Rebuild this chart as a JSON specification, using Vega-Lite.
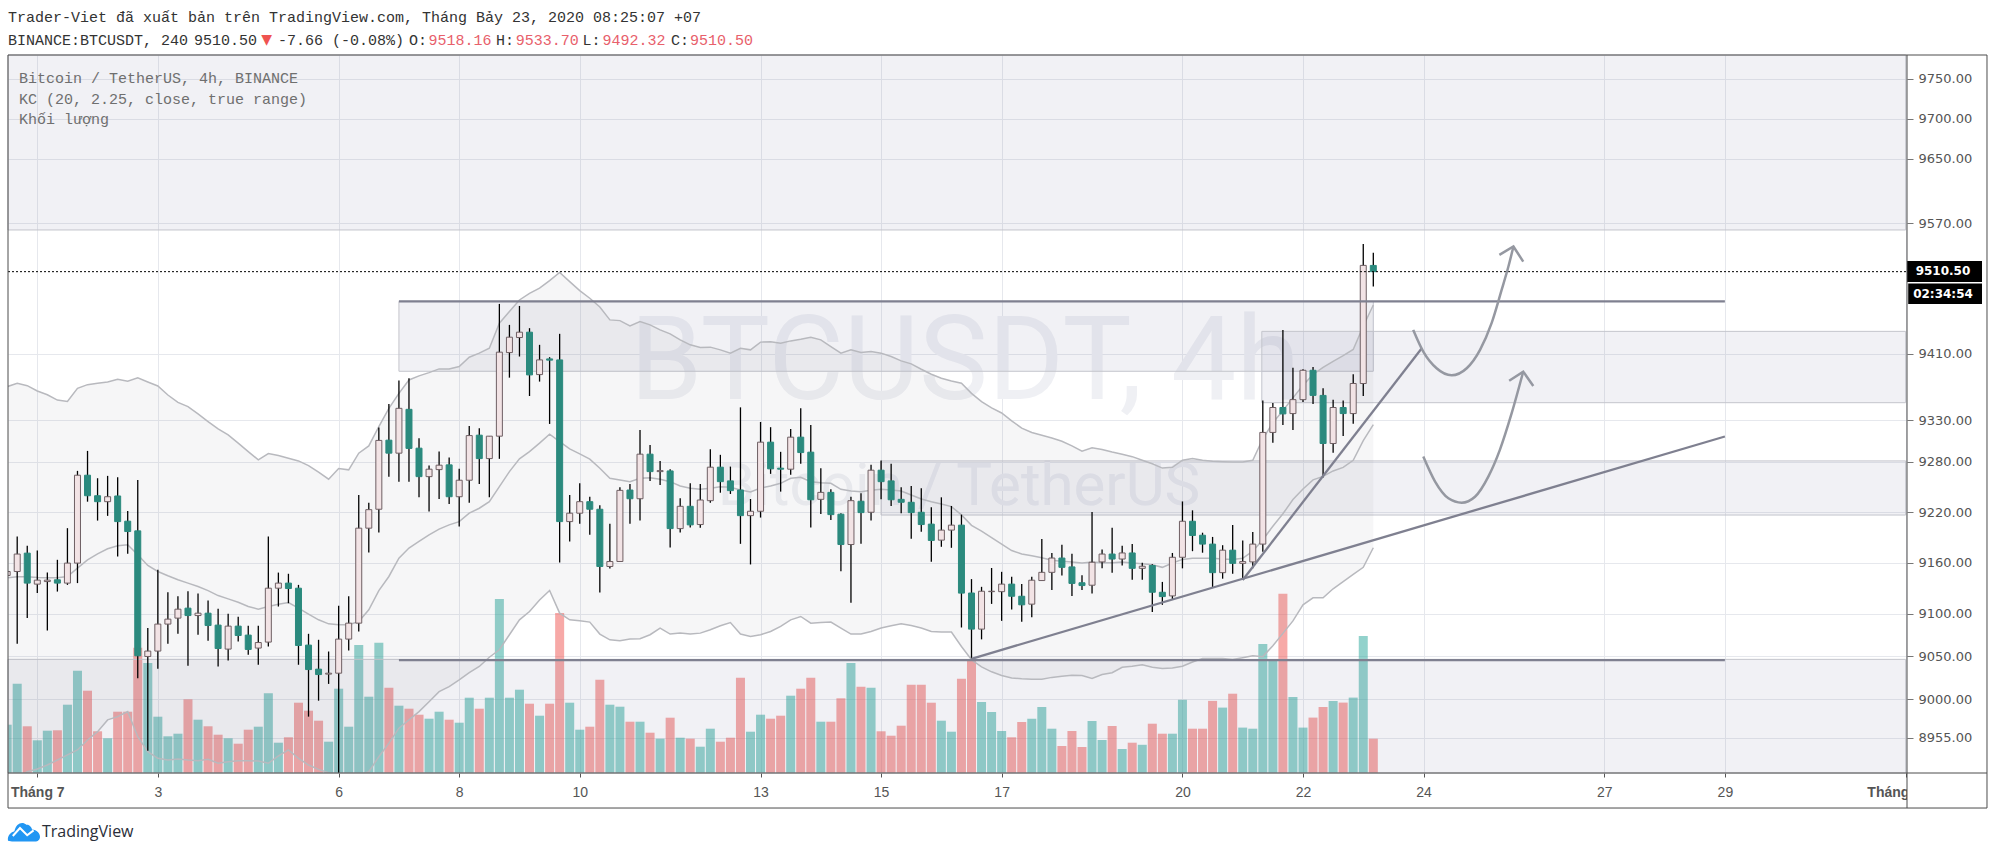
{"$schema":"https://vega.github.io/schema/vega-lite/v6.json","autosize":{"type":"none"},"padding":{"left":8,"top":55,"right":89,"bottom":83},"width":1899,"height":718,"background":"white","config":{"view":{"stroke":null}},
"datasets":{"bars":[
{"t":"2020-06-30T12:00Z","o":9144.8,"h":9163.3,"l":9128,"c":9149.5,"v":4830,"ku":9370.4,"km":9142,"kl":8906.4},
{"t":"2020-06-30T16:00Z","o":9149.5,"h":9190.9,"l":9064.5,"c":9170.1,"v":8930,"ku":9374.5,"km":9143.2,"kl":8908.8},
{"t":"2020-06-30T20:00Z","o":9171.2,"h":9179.9,"l":9094.6,"c":9135.8,"v":4670,"ku":9371.6,"km":9143.2,"kl":8916},
{"t":"2020-07-01T00:00Z","o":9134.6,"h":9174.3,"l":9124,"c":9139.3,"v":3270,"ku":9365.1,"km":9142.4,"kl":8919.2},
{"t":"2020-07-01T04:00Z","o":9137.6,"h":9148.2,"l":9080.1,"c":9139.3,"v":4230,"ku":9360.6,"km":9142,"kl":8923.8},
{"t":"2020-07-01T08:00Z","o":9139.7,"h":9163.3,"l":9125.8,"c":9135.8,"v":4270,"ku":9354.2,"km":9142,"kl":8929.6},
{"t":"2020-07-01T12:00Z","o":9135.8,"h":9200.8,"l":9133.7,"c":9159.4,"v":6830,"ku":9352.6,"km":9143.6,"kl":8935.4},
{"t":"2020-07-01T16:00Z","o":9159.4,"h":9269.1,"l":9135.8,"c":9263.9,"v":10230,"ku":9368.4,"km":9153.5,"kl":8941.2},
{"t":"2020-07-01T20:00Z","o":9263.9,"h":9293,"l":9232.3,"c":9239.4,"v":8230,"ku":9372.8,"km":9163.3,"kl":8952.7},
{"t":"2020-07-02T00:00Z","o":9239.4,"h":9260.3,"l":9209.8,"c":9232.3,"v":4170,"ku":9374.5,"km":9170.4,"kl":8962.3},
{"t":"2020-07-02T04:00Z","o":9232.3,"h":9263.1,"l":9215.4,"c":9238.2,"v":3470,"ku":9376.1,"km":9176.3,"kl":8975.9},
{"t":"2020-07-02T08:00Z","o":9239.1,"h":9261.5,"l":9167.2,"c":9208.6,"v":6130,"ku":9379.4,"km":9179.9,"kl":8979.7},
{"t":"2020-07-02T12:00Z","o":9209.1,"h":9221.3,"l":9170.4,"c":9196.8,"v":6130,"ku":9376.9,"km":9181.1,"kl":8985.5},
{"t":"2020-07-02T16:00Z","o":9197.6,"h":9258.3,"l":9024.4,"c":9050.5,"v":12530,"ku":9381,"km":9169.2,"kl":8956.5},
{"t":"2020-07-02T20:00Z","o":9049.7,"h":9082.9,"l":8940.3,"c":9056,"v":11000,"ku":9376.1,"km":9156.6,"kl":8939.2},
{"t":"2020-07-03T00:00Z","o":9056,"h":9151.5,"l":9035.3,"c":9087.6,"v":5630,"ku":9371.2,"km":9149.5,"kl":8931.5},
{"t":"2020-07-03T04:00Z","o":9087.6,"h":9124.9,"l":9064.5,"c":9093.4,"v":3670,"ku":9360.3,"km":9144.4,"kl":8929.6},
{"t":"2020-07-03T08:00Z","o":9094.6,"h":9120.2,"l":9076.2,"c":9105.1,"v":3930,"ku":9351.4,"km":9139.7,"kl":8930.7},
{"t":"2020-07-03T12:00Z","o":9106.3,"h":9126.1,"l":9038.8,"c":9097.6,"v":7370,"ku":9346.2,"km":9135.8,"kl":8929.6},
{"t":"2020-07-03T16:00Z","o":9097.6,"h":9123.4,"l":9075.1,"c":9100.4,"v":5330,"ku":9337.4,"km":9131.7,"kl":8928.8},
{"t":"2020-07-03T20:00Z","o":9100.4,"h":9115.2,"l":9068,"c":9085.9,"v":4670,"ku":9328.2,"km":9127,"kl":8930.4},
{"t":"2020-07-04T00:00Z","o":9086.4,"h":9105.5,"l":9038,"c":9059,"v":3830,"ku":9319.4,"km":9121.1,"kl":8925.8},
{"t":"2020-07-04T04:00Z","o":9058.3,"h":9099.6,"l":9045,"c":9085.2,"v":3470,"ku":9312.2,"km":9117.2,"kl":8927.6},
{"t":"2020-07-04T08:00Z","o":9085.2,"h":9096.1,"l":9067.2,"c":9074.2,"v":2930,"ku":9302.3,"km":9113.3,"kl":8928.8},
{"t":"2020-07-04T12:00Z","o":9074.7,"h":9085.6,"l":9051.7,"c":9057.9,"v":4330,"ku":9292.2,"km":9108.2,"kl":8928.8},
{"t":"2020-07-04T16:00Z","o":9059.5,"h":9085.6,"l":9040,"c":9066,"v":4630,"ku":9282.3,"km":9105.1,"kl":8928.4},
{"t":"2020-07-04T20:00Z","o":9066.5,"h":9190.9,"l":9061.4,"c":9129.8,"v":7970,"ku":9289.8,"km":9108.2,"kl":8925.8},
{"t":"2020-07-05T00:00Z","o":9129.8,"h":9148.2,"l":9108.2,"c":9135.8,"v":3030,"ku":9287.4,"km":9111,"kl":8934.2},
{"t":"2020-07-05T04:00Z","o":9135.8,"h":9146.8,"l":9112.1,"c":9129.4,"v":3570,"ku":9284.3,"km":9112.8,"kl":8941.2},
{"t":"2020-07-05T08:00Z","o":9129.8,"h":9133.7,"l":9040,"c":9062.5,"v":7030,"ku":9281,"km":9106.3,"kl":8931.5},
{"t":"2020-07-05T12:00Z","o":9063,"h":9076.2,"l":8979.7,"c":9034.4,"v":6230,"ku":9275.4,"km":9099.3,"kl":8923.8},
{"t":"2020-07-05T16:00Z","o":9034.9,"h":9069.2,"l":8998.2,"c":9028.6,"v":5230,"ku":9267.5,"km":9092.6,"kl":8918.8},
{"t":"2020-07-05T20:00Z","o":9029.1,"h":9055.5,"l":9017.7,"c":9030.2,"v":3130,"ku":9259.1,"km":9087.9,"kl":8914.9},
{"t":"2020-07-06T00:00Z","o":9030.2,"h":9109,"l":8914.9,"c":9070,"v":8430,"ku":9272,"km":9086.8,"kl":8911},
{"t":"2020-07-06T04:00Z","o":9070,"h":9120.2,"l":9056.7,"c":9088.7,"v":4630,"ku":9270.3,"km":9086.8,"kl":8908.8},
{"t":"2020-07-06T08:00Z","o":9088.7,"h":9240.2,"l":9078.9,"c":9200.8,"v":12800,"ku":9290.3,"km":9090.6,"kl":8912.2},
{"t":"2020-07-06T12:00Z","o":9200.8,"h":9231.1,"l":9172,"c":9222.8,"v":7630,"ku":9299,"km":9104.3,"kl":8916},
{"t":"2020-07-06T16:00Z","o":9223.3,"h":9321.2,"l":9195.6,"c":9305.6,"v":13030,"ku":9322.2,"km":9127,"kl":8933.3},
{"t":"2020-07-06T20:00Z","o":9305.9,"h":9349.4,"l":9262.2,"c":9290.3,"v":8530,"ku":9344.2,"km":9143.6,"kl":8948.9},
{"t":"2020-07-07T00:00Z","o":9290.3,"h":9377.9,"l":9256.2,"c":9344.2,"v":6730,"ku":9362.3,"km":9165.3,"kl":8966.3},
{"t":"2020-07-07T04:00Z","o":9343,"h":9380.6,"l":9256.2,"c":9296,"v":6430,"ku":9378.5,"km":9177.2,"kl":8975.9},
{"t":"2020-07-07T08:00Z","o":9296.3,"h":9308.3,"l":9237.5,"c":9262.2,"v":5830,"ku":9383.4,"km":9185,"kl":8985.5},
{"t":"2020-07-07T12:00Z","o":9262.2,"h":9275.4,"l":9220.5,"c":9271.1,"v":5430,"ku":9387.4,"km":9192.9,"kl":8997},
{"t":"2020-07-07T16:00Z","o":9270.6,"h":9292.2,"l":9235.5,"c":9275.9,"v":6130,"ku":9391.9,"km":9199.6,"kl":9008.7},
{"t":"2020-07-07T20:00Z","o":9276.3,"h":9285,"l":9229.6,"c":9238.2,"v":5330,"ku":9391.9,"km":9204.7,"kl":9014.6},
{"t":"2020-07-08T00:00Z","o":9238.2,"h":9271.5,"l":9202.7,"c":9257.9,"v":5030,"ku":9394.7,"km":9208.6,"kl":9022.4},
{"t":"2020-07-08T04:00Z","o":9257.9,"h":9323,"l":9231.1,"c":9311.4,"v":7530,"ku":9406.1,"km":9218.6,"kl":9030.9},
{"t":"2020-07-08T08:00Z","o":9311.9,"h":9320.3,"l":9253.5,"c":9283.8,"v":6430,"ku":9411,"km":9224.5,"kl":9038},
{"t":"2020-07-08T12:00Z","o":9283.8,"h":9311,"l":9237.5,"c":9310.7,"v":7530,"ku":9417,"km":9232.3,"kl":9048.8},
{"t":"2020-07-08T16:00Z","o":9310.7,"h":9471,"l":9283.5,"c":9412.2,"v":17400,"ku":9447.5,"km":9250.2,"kl":9057.5},
{"t":"2020-07-08T20:00Z","o":9411.7,"h":9445.4,"l":9381.3,"c":9430.4,"v":7530,"ku":9461.6,"km":9268.2,"kl":9075.1},
{"t":"2020-07-09T00:00Z","o":9430,"h":9468.5,"l":9406.9,"c":9436.5,"v":8330,"ku":9475.8,"km":9283.5,"kl":9092.6},
{"t":"2020-07-09T04:00Z","o":9436.5,"h":9441.4,"l":9359.1,"c":9384.6,"v":6930,"ku":9484,"km":9292.2,"kl":9102.3},
{"t":"2020-07-09T08:00Z","o":9385,"h":9421.1,"l":9376.5,"c":9402.8,"v":5730,"ku":9490.2,"km":9302.3,"kl":9116},
{"t":"2020-07-09T12:00Z","o":9404,"h":9406.1,"l":9325.4,"c":9402.5,"v":6930,"ku":9499.6,"km":9313.1,"kl":9127},
{"t":"2020-07-09T16:00Z","o":9402.8,"h":9434.5,"l":9160.1,"c":9208.6,"v":16000,"ku":9509.5,"km":9304.2,"kl":9100.4},
{"t":"2020-07-09T20:00Z","o":9208.6,"h":9240.2,"l":9185,"c":9218.6,"v":7030,"ku":9498.3,"km":9295.4,"kl":9092.6},
{"t":"2020-07-10T00:00Z","o":9218.6,"h":9254.3,"l":9205.9,"c":9232.3,"v":4330,"ku":9487.2,"km":9289.4,"kl":9091.4},
{"t":"2020-07-10T04:00Z","o":9232.3,"h":9238.2,"l":9192.9,"c":9223.3,"v":4630,"ku":9477.9,"km":9283.1,"kl":9089.9},
{"t":"2020-07-10T08:00Z","o":9223.3,"h":9228,"l":9124.6,"c":9155.4,"v":9330,"ku":9467.3,"km":9272.3,"kl":9075.9},
{"t":"2020-07-10T12:00Z","o":9155.4,"h":9205.9,"l":9153,"c":9161.3,"v":6830,"ku":9451.5,"km":9260.3,"kl":9069.2},
{"t":"2020-07-10T16:00Z","o":9161.3,"h":9249.4,"l":9161.3,"c":9245.8,"v":6630,"ku":9450.6,"km":9258.3,"kl":9068},
{"t":"2020-07-10T20:00Z","o":9246.2,"h":9253.5,"l":9205.9,"c":9235.8,"v":5130,"ku":9444.2,"km":9256.2,"kl":9070},
{"t":"2020-07-11T00:00Z","o":9235.8,"h":9318.2,"l":9209.8,"c":9289.1,"v":5130,"ku":9449.4,"km":9260.3,"kl":9070.4},
{"t":"2020-07-11T04:00Z","o":9289.1,"h":9300.2,"l":9257.1,"c":9268.2,"v":4030,"ku":9445.4,"km":9261,"kl":9075.1},
{"t":"2020-07-11T08:00Z","o":9268.2,"h":9281,"l":9252.3,"c":9269.4,"v":3430,"ku":9439.3,"km":9259.1,"kl":9082.9},
{"t":"2020-07-11T12:00Z","o":9269,"h":9271.1,"l":9177.9,"c":9200.3,"v":5530,"ku":9434.5,"km":9256.2,"kl":9075.9},
{"t":"2020-07-11T16:00Z","o":9200.3,"h":9236.3,"l":9195.6,"c":9226.8,"v":3530,"ku":9427.2,"km":9251,"kl":9077},
{"t":"2020-07-11T20:00Z","o":9226.8,"h":9254.3,"l":9201.5,"c":9204.7,"v":3430,"ku":9421.1,"km":9248.3,"kl":9075.9},
{"t":"2020-07-12T00:00Z","o":9205.1,"h":9253.5,"l":9201.2,"c":9234.3,"v":2630,"ku":9417.8,"km":9247.1,"kl":9077},
{"t":"2020-07-12T04:00Z","o":9233.5,"h":9295,"l":9231.1,"c":9273.5,"v":4430,"ku":9418.3,"km":9248.3,"kl":9080.9},
{"t":"2020-07-12T08:00Z","o":9273.5,"h":9288.3,"l":9243,"c":9256.2,"v":3130,"ku":9415,"km":9250.2,"kl":9085.6},
{"t":"2020-07-12T12:00Z","o":9257.1,"h":9274.2,"l":9241.5,"c":9245.5,"v":3530,"ku":9411,"km":9249.4,"kl":9089.4},
{"t":"2020-07-12T16:00Z","o":9246.2,"h":9345.4,"l":9182.2,"c":9215.7,"v":9530,"ku":9417,"km":9246.2,"kl":9075.9},
{"t":"2020-07-12T20:00Z","o":9215.7,"h":9235.5,"l":9157.8,"c":9220.9,"v":4130,"ku":9415,"km":9243.8,"kl":9073.1},
{"t":"2020-07-13T00:00Z","o":9220.9,"h":9327.8,"l":9213.4,"c":9303.5,"v":5830,"ku":9424.4,"km":9248.6,"kl":9075.1},
{"t":"2020-07-13T04:00Z","o":9303.5,"h":9321.5,"l":9265.5,"c":9271.5,"v":5430,"ku":9424.7,"km":9251,"kl":9078.9},
{"t":"2020-07-13T08:00Z","o":9272.3,"h":9291.9,"l":9244.3,"c":9271.1,"v":5730,"ku":9423.1,"km":9254.2,"kl":9084.8},
{"t":"2020-07-13T12:00Z","o":9271.1,"h":9319.4,"l":9264.3,"c":9309.5,"v":7730,"ku":9425.9,"km":9260.3,"kl":9092.6},
{"t":"2020-07-13T16:00Z","o":9309.5,"h":9344.2,"l":9277.5,"c":9291,"v":8430,"ku":9428,"km":9261.4,"kl":9096.5},
{"t":"2020-07-13T20:00Z","o":9291.5,"h":9324.2,"l":9201.5,"c":9234.6,"v":9530,"ku":9430.4,"km":9256.2,"kl":9088.7},
{"t":"2020-07-14T00:00Z","o":9235.1,"h":9272.3,"l":9217.7,"c":9243.4,"v":5130,"ku":9427.2,"km":9255,"kl":9089.4},
{"t":"2020-07-14T04:00Z","o":9243.4,"h":9247.1,"l":9210.6,"c":9216.9,"v":5130,"ku":9419,"km":9254.2,"kl":9089.9},
{"t":"2020-07-14T08:00Z","o":9217.4,"h":9218.6,"l":9149.9,"c":9181.4,"v":7470,"ku":9411,"km":9247.1,"kl":9082.9},
{"t":"2020-07-14T12:00Z","o":9181.4,"h":9238.2,"l":9112.8,"c":9233.5,"v":11000,"ku":9415,"km":9245.1,"kl":9075.9},
{"t":"2020-07-14T16:00Z","o":9232.8,"h":9242.3,"l":9182.2,"c":9219.3,"v":8630,"ku":9411.7,"km":9244.2,"kl":9075.9},
{"t":"2020-07-14T20:00Z","o":9219.7,"h":9276.3,"l":9209.8,"c":9269.9,"v":8530,"ku":9412.9,"km":9245.9,"kl":9078.9},
{"t":"2020-07-15T00:00Z","o":9269.9,"h":9281.4,"l":9235.1,"c":9256.2,"v":4170,"ku":9411,"km":9247.1,"kl":9082.9},
{"t":"2020-07-15T04:00Z","o":9257.1,"h":9277.5,"l":9227.2,"c":9234.6,"v":3730,"ku":9406.9,"km":9246.2,"kl":9085.6},
{"t":"2020-07-15T08:00Z","o":9235.1,"h":9249.4,"l":9218.6,"c":9231.6,"v":4730,"ku":9401.6,"km":9245.1,"kl":9087.9},
{"t":"2020-07-15T12:00Z","o":9231.6,"h":9251,"l":9188.2,"c":9219.3,"v":8830,"ku":9398,"km":9240.3,"kl":9085.9},
{"t":"2020-07-15T16:00Z","o":9219.7,"h":9248.3,"l":9196.4,"c":9205.1,"v":8830,"ku":9391.5,"km":9235.5,"kl":9082.9},
{"t":"2020-07-15T20:00Z","o":9205.6,"h":9225.7,"l":9161,"c":9186.2,"v":7030,"ku":9385.4,"km":9232.3,"kl":9078.9},
{"t":"2020-07-16T00:00Z","o":9186.6,"h":9237.5,"l":9178.7,"c":9198.5,"v":5230,"ku":9380.6,"km":9229.6,"kl":9078.2},
{"t":"2020-07-16T04:00Z","o":9198.5,"h":9227.2,"l":9177.5,"c":9204.4,"v":4130,"ku":9377.3,"km":9226.4,"kl":9078.2},
{"t":"2020-07-16T08:00Z","o":9204.4,"h":9216.9,"l":9083.6,"c":9124,"v":9430,"ku":9374.5,"km":9216.6,"kl":9061.4},
{"t":"2020-07-16T12:00Z","o":9124.1,"h":9140.5,"l":9047.4,"c":9081.7,"v":11290,"ku":9362.3,"km":9204.1,"kl":9045.8},
{"t":"2020-07-16T16:00Z","o":9081.7,"h":9131.4,"l":9069.7,"c":9126.2,"v":7100,"ku":9352.4,"km":9197.3,"kl":9037.6},
{"t":"2020-07-16T20:00Z","o":9125.7,"h":9153.6,"l":9111.3,"c":9126.2,"v":6100,"ku":9344.8,"km":9189.5,"kl":9031.8},
{"t":"2020-07-17T00:00Z","o":9125.7,"h":9149.1,"l":9091.4,"c":9134.6,"v":4200,"ku":9338.6,"km":9181.9,"kl":9027.4},
{"t":"2020-07-17T04:00Z","o":9134.6,"h":9143.2,"l":9104.8,"c":9120.3,"v":3570,"ku":9329,"km":9174.3,"kl":9024.5},
{"t":"2020-07-17T08:00Z","o":9120.3,"h":9134.6,"l":9090.3,"c":9110.2,"v":5100,"ku":9320.4,"km":9170.1,"kl":9023.7},
{"t":"2020-07-17T12:00Z","o":9111,"h":9143.2,"l":9095.5,"c":9139.2,"v":5430,"ku":9315.2,"km":9168,"kl":9023.2},
{"t":"2020-07-17T16:00Z","o":9138.8,"h":9187.8,"l":9138.8,"c":9148.5,"v":6600,"ku":9311.8,"km":9165.8,"kl":9023.2},
{"t":"2020-07-17T20:00Z","o":9148.5,"h":9171.4,"l":9127.8,"c":9165.4,"v":4430,"ku":9308.4,"km":9162.8,"kl":9025.3},
{"t":"2020-07-18T00:00Z","o":9165.4,"h":9181.1,"l":9144.7,"c":9154.4,"v":2700,"ku":9304.6,"km":9161.7,"kl":9026.6},
{"t":"2020-07-18T04:00Z","o":9154.9,"h":9170.4,"l":9120.7,"c":9135.4,"v":4200,"ku":9299,"km":9160.8,"kl":9027.8},
{"t":"2020-07-18T08:00Z","o":9136.2,"h":9145,"l":9127.8,"c":9132.9,"v":2600,"ku":9292.6,"km":9159.5,"kl":9027.4},
{"t":"2020-07-18T12:00Z","o":9133.3,"h":9220.1,"l":9123.6,"c":9160.4,"v":5200,"ku":9296.8,"km":9160.8,"kl":9024},
{"t":"2020-07-18T16:00Z","o":9160.8,"h":9175.6,"l":9153.2,"c":9170.1,"v":3300,"ku":9294.7,"km":9159.9,"kl":9028.7},
{"t":"2020-07-18T20:00Z","o":9170.1,"h":9201.3,"l":9148.1,"c":9164.2,"v":4700,"ku":9291.7,"km":9159.9,"kl":9030.7},
{"t":"2020-07-19T00:00Z","o":9164.2,"h":9179.9,"l":9156.6,"c":9171.4,"v":2400,"ku":9289.1,"km":9160.8,"kl":9037},
{"t":"2020-07-19T04:00Z","o":9171.4,"h":9181.9,"l":9139.7,"c":9153.2,"v":3030,"ku":9286.1,"km":9159.5,"kl":9038.3},
{"t":"2020-07-19T08:00Z","o":9153.2,"h":9159.9,"l":9139.7,"c":9155.7,"v":2820,"ku":9281.8,"km":9158.7,"kl":9039.9},
{"t":"2020-07-19T12:00Z","o":9156.6,"h":9157.9,"l":9101.8,"c":9125,"v":4930,"ku":9277.6,"km":9157.4,"kl":9037},
{"t":"2020-07-19T16:00Z","o":9125,"h":9137.2,"l":9110.2,"c":9119.9,"v":3930,"ku":9272.4,"km":9154.4,"kl":9035.7},
{"t":"2020-07-19T20:00Z","o":9120.7,"h":9171.4,"l":9116.5,"c":9166.3,"v":3930,"ku":9273.3,"km":9159.5,"kl":9036.2},
{"t":"2020-07-20T00:00Z","o":9166.3,"h":9232.6,"l":9153.2,"c":9209,"v":7320,"ku":9281.8,"km":9163.8,"kl":9038.3},
{"t":"2020-07-20T04:00Z","o":9209,"h":9222,"l":9173.5,"c":9192.1,"v":4430,"ku":9283.9,"km":9165,"kl":9043.3},
{"t":"2020-07-20T08:00Z","o":9192.4,"h":9195.4,"l":9171.7,"c":9181.9,"v":4430,"ku":9281.8,"km":9165,"kl":9047.4},
{"t":"2020-07-20T12:00Z","o":9181.9,"h":9190.4,"l":9130.3,"c":9148.1,"v":7210,"ku":9280.6,"km":9165,"kl":9047.4},
{"t":"2020-07-20T16:00Z","o":9148.1,"h":9180.6,"l":9141,"c":9174.7,"v":6540,"ku":9280.1,"km":9164.2,"kl":9047.4},
{"t":"2020-07-20T20:00Z","o":9174.7,"h":9204.7,"l":9146.9,"c":9159.1,"v":7930,"ku":9279.7,"km":9163.8,"kl":9046.3},
{"t":"2020-07-21T00:00Z","o":9159.1,"h":9186.2,"l":9140.5,"c":9161.2,"v":4540,"ku":9279.7,"km":9165,"kl":9048.3},
{"t":"2020-07-21T04:00Z","o":9160.8,"h":9196.3,"l":9153.2,"c":9181.9,"v":4430,"ku":9281.8,"km":9173.5,"kl":9050.4},
{"t":"2020-07-21T08:00Z","o":9181.9,"h":9353.7,"l":9172.7,"c":9315.2,"v":12890,"ku":9307.6,"km":9187,"kl":9049.5},
{"t":"2020-07-21T12:00Z","o":9315.2,"h":9350.7,"l":9302.8,"c":9345.2,"v":11290,"ku":9326.7,"km":9203.1,"kl":9062.2},
{"t":"2020-07-21T16:00Z","o":9345.2,"h":9439.3,"l":9324.2,"c":9337.5,"v":17930,"ku":9341.7,"km":9217.9,"kl":9076.7},
{"t":"2020-07-21T20:00Z","o":9337.9,"h":9393.2,"l":9318.2,"c":9354.7,"v":7600,"ku":9356.8,"km":9234.8,"kl":9091.3},
{"t":"2020-07-22T00:00Z","o":9354.7,"h":9391.5,"l":9351.7,"c":9390.2,"v":4540,"ku":9372,"km":9247.5,"kl":9110.2},
{"t":"2020-07-22T04:00Z","o":9390.2,"h":9394.2,"l":9349.5,"c":9359.8,"v":5540,"ku":9385.1,"km":9258.3,"kl":9118.5},
{"t":"2020-07-22T08:00Z","o":9359.8,"h":9368.6,"l":9261.2,"c":9301.9,"v":6600,"ku":9393.7,"km":9262.5,"kl":9118.5},
{"t":"2020-07-22T12:00Z","o":9301.9,"h":9354.7,"l":9290.8,"c":9345.2,"v":7200,"ku":9401.1,"km":9269,"kl":9129.1},
{"t":"2020-07-22T16:00Z","o":9345.2,"h":9353.7,"l":9310.9,"c":9337.9,"v":7040,"ku":9408.1,"km":9273.3,"kl":9137.5},
{"t":"2020-07-22T20:00Z","o":9337.9,"h":9385.5,"l":9325.5,"c":9374.2,"v":7540,"ku":9415.5,"km":9281.8,"kl":9146},
{"t":"2020-07-23T00:00Z","o":9374.2,"h":9544.4,"l":9359,"c":9518.2,"v":13700,"ku":9443.7,"km":9305.4,"kl":9154.4},
{"t":"2020-07-23T04:00Z","o":9518.16,"h":9533.7,"l":9492.32,"c":9510.5,"v":3430,"ku":9469.7,"km":9324.7,"kl":9177.6}
]},
"encoding":{"x":{"field":"t","type":"temporal","title":null,"scale":{"type":"utc","padding":0,"domain":["2020-06-30T12:20:00Z","2020-08-01T00:31:00Z"]},"axis":{"values":["2020-07-01T00:00:00Z","2020-07-03T00:00:00Z","2020-07-06T00:00:00Z","2020-07-08T00:00:00Z","2020-07-10T00:00:00Z","2020-07-13T00:00:00Z","2020-07-15T00:00:00Z","2020-07-17T00:00:00Z","2020-07-20T00:00:00Z","2020-07-22T00:00:00Z","2020-07-24T00:00:00Z","2020-07-27T00:00:00Z","2020-07-29T00:00:00Z","2020-08-01T00:00:00Z"],"labelExpr":"utcdate(datum.value)==1 ? 'Tháng ' + (utcmonth(datum.value)+1) : '' + utcdate(datum.value)","labelFontWeight":{"condition":{"test":"utcdate(datum.value)==1","value":"bold"},"value":"normal"},"labelOffset":{"condition":{"test":"utcmonth(datum.value)==7","value":-12},"value":0},"labelFont":"Liberation Sans","labelFontSize":14,"labelColor":"#555555","labelPadding":8,"labelOverlap":false,"labelBound":false,"labelFlush":false,"tickSize":4,"tickColor":"#555555","domain":false,"grid":true,"gridColor":"#e6e8ed","gridWidth":1}}},
"layer":[
{"data":{"values":[{"t":"2020-07-01T00:00:00Z","p":9510.5}]},"mark":{"type":"rule","opacity":0},"encoding":{"y":{"field":"p","type":"quantitative","title":null,"scale":{"type":"log","domain":[8914.6,9780.2],"nice":false,"zero":false},"axis":{"orient":"right","values":[8955,9000,9050,9100,9160,9220,9280,9330,9410,9570,9650,9700,9750],"format":".2f","labelFont":"DejaVu Sans","labelFontSize":13,"labelColor":"#555555","labelPadding":5,"labelOverlap":false,"labelBound":false,"tickSize":6,"tickColor":"#777777","domain":false,"grid":true,"gridColor":"#e6e8ed","gridWidth":1}}}},
{"data":{"name":"bars"},"mark":{"type":"bar","size":9,"opacity":0.5,"orient":"vertical","clip":true},"encoding":{"y":{"field":"v","type":"quantitative","stack":null,"scale":{"domain":[0,71800],"nice":false},"axis":null},"fill":{"condition":{"test":"datum.c>=datum.o","value":"#26a69a"},"value":"#ef5350"}}},
{"layer":[
{"data":{"values":[{"t":"2020-07-10T20:00:00Z","txt":"BTCUSDT, 4h","p":9355.4}]},"mark":{"type":"text","font":"Roboto","fontSize":116,"align":"left","baseline":"alphabetic","color":"#eff0f4"},"encoding":{"text":{"field":"txt"},"y":{"field":"p","type":"quantitative","scale":{"type":"log","domain":[8914.6,9780.2],"nice":false,"zero":false},"axis":null}}},
{"data":{"values":[{"t":"2020-07-12T07:00:00Z","txt":"Bitcoin / TetherUS","p":9228.4}]},"mark":{"type":"text","font":"Roboto","fontSize":60,"align":"left","baseline":"alphabetic","color":"#eff0f4"},"encoding":{"text":{"field":"txt"},"y":{"field":"p","type":"quantitative","scale":{"type":"log","domain":[8914.6,9780.2],"nice":false,"zero":false},"axis":null}}},
{"data":{"values":[
{"t":"2020-06-30T12:20:00Z","t2":"2020-08-01T00:00:00Z","p1":9780.2,"p2":9561.8},
{"t":"2020-07-07T00:00:00Z","t2":"2020-07-23T04:00:00Z","p1":9474,"p2":9389},
{"t":"2020-07-21T07:36:00Z","t2":"2020-08-01T00:00:00Z","p1":9437.5,"p2":9351},
{"t":"2020-07-15T00:00:00Z","t2":"2020-08-01T00:00:00Z","p1":9281,"p2":9216.4},
{"t":"2020-06-30T12:20:00Z","t2":"2020-08-01T00:00:00Z","p1":9046.3,"p2":8914.6}]},"mark":{"type":"rect","fill":"#6a6f9a","fillOpacity":0.095,"stroke":"#c4c5cc","strokeWidth":1},"encoding":{"x2":{"field":"t2"},"y":{"field":"p1","type":"quantitative","scale":{"type":"log","domain":[8914.6,9780.2],"nice":false,"zero":false},"axis":null},"y2":{"field":"p2"}}},
{"data":{"name":"bars"},"mark":{"type":"area","fill":"#7b7b8a","fillOpacity":0.07,"clip":true},"encoding":{"y":{"field":"ku","type":"quantitative","scale":{"type":"log","domain":[8914.6,9780.2],"nice":false,"zero":false},"axis":null},"y2":{"field":"kl"}}},
{"data":{"name":"bars"},"mark":{"type":"line","stroke":"#b8b9be","strokeWidth":1.5,"clip":true},"encoding":{"y":{"field":"ku","type":"quantitative","scale":{"type":"log","domain":[8914.6,9780.2],"nice":false,"zero":false},"axis":null}}},
{"data":{"name":"bars"},"mark":{"type":"line","stroke":"#b8b9be","strokeWidth":1.5,"clip":true},"encoding":{"y":{"field":"km","type":"quantitative","scale":{"type":"log","domain":[8914.6,9780.2],"nice":false,"zero":false},"axis":null}}},
{"data":{"name":"bars"},"mark":{"type":"line","stroke":"#b8b9be","strokeWidth":1.5,"clip":true},"encoding":{"y":{"field":"kl","type":"quantitative","scale":{"type":"log","domain":[8914.6,9780.2],"nice":false,"zero":false},"axis":null}}},
{"data":{"name":"bars"},"mark":{"type":"rule","stroke":"#000000","strokeWidth":1.3,"clip":true},"encoding":{"y":{"field":"l","type":"quantitative","scale":{"type":"log","domain":[8914.6,9780.2],"nice":false,"zero":false},"axis":null},"y2":{"field":"h"}}},
{"data":{"name":"bars"},"mark":{"type":"bar","size":6,"strokeWidth":1,"orient":"vertical","clip":true},"encoding":{"y":{"field":"o","type":"quantitative","stack":null,"scale":{"type":"log","domain":[8914.6,9780.2],"nice":false,"zero":false},"axis":null},"y2":{"field":"c"},"fill":{"condition":{"test":"datum.c>=datum.o","value":"#f2e3e5"},"value":"#2b8a7e"},"stroke":{"condition":{"test":"datum.c>=datum.o","value":"#6e5f63"},"value":"#2b8a7e"}}},
{"data":{"values":[{"t":"2020-06-30T12:20:00Z","t2":"2020-08-01T00:31:00Z","p":9510.5}]},"mark":{"type":"rule","stroke":"#000000","strokeWidth":1,"strokeDash":[2,2]},"encoding":{"x2":{"field":"t2"},"y":{"field":"p","type":"quantitative","scale":{"type":"log","domain":[8914.6,9780.2],"nice":false,"zero":false},"axis":null}}},
{"data":{"values":[
{"t":"2020-07-07T00:00:00Z","t2":"2020-07-29T00:00:00Z","p1":9474,"p2":9474},
{"t":"2020-07-07T00:00:00Z","t2":"2020-07-29T00:00:00Z","p1":9045.4,"p2":9045.4},
{"t":"2020-07-16T12:00:00Z","t2":"2020-07-29T00:00:00Z","p1":9047,"p2":9310.3},
{"t":"2020-07-21T00:00:00Z","t2":"2020-07-23T23:18:00Z","p1":9139.5,"p2":9417}]},"mark":{"type":"rule","stroke":"#7f8090","strokeWidth":2.3},"encoding":{"x2":{"field":"t2"},"y":{"field":"p1","type":"quantitative","scale":{"type":"log","domain":[8914.6,9780.2],"nice":false,"zero":false},"axis":null},"y2":{"field":"p2"}}},
{"data":{"values":[
{"g":"a","t":"2020-07-23T19:54:00Z","p":9439.3},{"g":"a","t":"2020-07-23T23:54:00Z","p":9412.9},{"g":"a","t":"2020-07-24T05:12:00Z","p":9392.7},{"g":"a","t":"2020-07-24T11:12:00Z","p":9384.2},{"g":"a","t":"2020-07-24T17:12:00Z","p":9392.7},{"g":"a","t":"2020-07-24T22:30:00Z","p":9415},{"g":"a","t":"2020-07-25T03:06:00Z","p":9447.5},{"g":"a","t":"2020-07-25T07:06:00Z","p":9488.1},{"g":"a","t":"2020-07-25T09:48:00Z","p":9516.8},{"g":"a","t":"2020-07-25T11:48:00Z","p":9541.4},
{"g":"b","t":"2020-07-23T23:54:00Z","p":9286.2},{"g":"b","t":"2020-07-24T04:36:00Z","p":9256.2},{"g":"b","t":"2020-07-24T09:54:00Z","p":9236.3},{"g":"b","t":"2020-07-24T15:12:00Z","p":9231.1},{"g":"b","t":"2020-07-24T20:30:00Z","p":9238.2},{"g":"b","t":"2020-07-25T01:48:00Z","p":9262.2},{"g":"b","t":"2020-07-25T06:24:00Z","p":9294.3},{"g":"b","t":"2020-07-25T11:06:00Z","p":9338.3},{"g":"b","t":"2020-07-25T15:42:00Z","p":9388.6}]},"mark":{"type":"line","stroke":"#9598a1","strokeWidth":2.5,"interpolate":"monotone"},"encoding":{"detail":{"field":"g"},"y":{"field":"p","type":"quantitative","scale":{"type":"log","domain":[8914.6,9780.2],"nice":false,"zero":false},"axis":null}}},
{"data":{"values":[
{"g":"a","t":"2020-07-25T06:12:00Z","p":9531.2},{"g":"a","t":"2020-07-25T11:48:00Z","p":9541.4},{"g":"a","t":"2020-07-25T15:42:00Z","p":9522.9},
{"g":"b","t":"2020-07-25T10:06:00Z","p":9377.6},{"g":"b","t":"2020-07-25T15:42:00Z","p":9388.6},{"g":"b","t":"2020-07-25T19:42:00Z","p":9371.2}]},"mark":{"type":"line","stroke":"#9598a1","strokeWidth":2.5},"encoding":{"detail":{"field":"g"},"y":{"field":"p","type":"quantitative","scale":{"type":"log","domain":[8914.6,9780.2],"nice":false,"zero":false},"axis":null}}},
{"data":{"values":[
{"t":"2020-06-30T12:20:00Z","txt":"Trader-Viet đã xuất bản trên TradingView.com, Tháng Bảy 23, 2020 08:25:07 +07","p":9828.3},
{"t":"2020-06-30T12:20:00Z","txt":"BINANCE:BTCUSDT, 240","p":9799.2},
{"t":"2020-07-03T14:24:00Z","txt":"9510.50","p":9799.2},
{"t":"2020-07-04T23:48:00Z","txt":"-7.66 (-0.08%)","p":9799.2},
{"t":"2020-07-07T04:00:00Z","txt":"O:","p":9799.2},
{"t":"2020-07-08T14:42:00Z","txt":"H:","p":9799.2},
{"t":"2020-07-10T01:06:00Z","txt":"L:","p":9799.2},
{"t":"2020-07-11T12:18:00Z","txt":"C:","p":9799.2}]},"mark":{"type":"text","font":"Liberation Mono","fontSize":15,"align":"left","baseline":"middle","color":"#333333"},"encoding":{"text":{"field":"txt"},"y":{"field":"p","type":"quantitative","scale":{"type":"log","domain":[8914.6,9780.2],"nice":false,"zero":false},"axis":null}}},
{"data":{"values":[
{"t":"2020-07-07T11:48:00Z","txt":"9518.16","p":9799.2},
{"t":"2020-07-08T22:30:00Z","txt":"9533.70","p":9799.2},
{"t":"2020-07-10T09:06:00Z","txt":"9492.32","p":9799.2},
{"t":"2020-07-11T19:54:00Z","txt":"9510.50","p":9799.2}]},"mark":{"type":"text","font":"Liberation Mono","fontSize":15,"align":"left","baseline":"middle","color":"#e8606b"},"encoding":{"text":{"field":"txt"},"y":{"field":"p","type":"quantitative","scale":{"type":"log","domain":[8914.6,9780.2],"nice":false,"zero":false},"axis":null}}},
{"data":{"values":[{"t":"2020-07-04T19:18:00Z","txt":"▼","p":9799.2}]},"mark":{"type":"text","font":"DejaVu Sans","fontSize":14,"align":"center","baseline":"middle","color":"#ef5350"},"encoding":{"text":{"field":"txt"},"y":{"field":"p","type":"quantitative","scale":{"type":"log","domain":[8914.6,9780.2],"nice":false,"zero":false},"axis":null}}},
{"data":{"values":[
{"t":"2020-06-30T16:43:00Z","txt":"Bitcoin / TetherUS, 4h, BINANCE","p":9751.3},
{"t":"2020-06-30T16:43:00Z","txt":"KC (20, 2.25, close, true range)","p":9724.9},
{"t":"2020-06-30T16:43:00Z","txt":"Khối lượng","p":9699.8}]},"mark":{"type":"text","font":"Liberation Mono","fontSize":15,"align":"left","baseline":"middle","color":"#6f6f6f"},"encoding":{"text":{"field":"txt"},"y":{"field":"p","type":"quantitative","scale":{"type":"log","domain":[8914.6,9780.2],"nice":false,"zero":false},"axis":null}}},
{"data":{"values":[{"t":"2020-08-01T00:31:00Z","t2":"2020-08-02T08:22:00Z","p1":8914.6,"p2":8874.4}]},"mark":{"type":"rect","fill":"#ffffff"},"encoding":{"x2":{"field":"t2"},"y":{"field":"p1","type":"quantitative","scale":{"type":"log","domain":[8914.6,9780.2],"nice":false,"zero":false},"axis":null},"y2":{"field":"p2"}}},
{"data":{"values":[
{"t":"2020-08-01T00:31:00Z","t2":"2020-08-02T06:23:00Z","p1":9523.6,"p2":9497.9},
{"t":"2020-08-01T01:00:00Z","t2":"2020-08-02T06:23:00Z","p1":9495.9,"p2":9470.9}]},"mark":{"type":"rect","fill":"#000000"},"encoding":{"x2":{"field":"t2"},"y":{"field":"p1","type":"quantitative","scale":{"type":"log","domain":[8914.6,9780.2],"nice":false,"zero":false},"axis":null},"y2":{"field":"p2"}}},
{"data":{"values":[
{"t":"2020-08-01T14:51:00Z","txt":"9510.50","p":9510.7},
{"t":"2020-08-01T14:51:00Z","txt":"02:34:54","p":9483.4}]},"mark":{"type":"text","font":"DejaVu Sans","fontSize":12,"fontWeight":"bold","align":"center","baseline":"middle","color":"#ffffff"},"encoding":{"text":{"field":"txt"},"y":{"field":"p","type":"quantitative","scale":{"type":"log","domain":[8914.6,9780.2],"nice":false,"zero":false},"axis":null}}},
{"data":{"values":[
{"t":"2020-06-30T12:20:00Z","t2":"2020-08-02T08:22:00Z","p1":9780.2,"p2":9780.2},
{"t":"2020-06-30T12:20:00Z","t2":"2020-08-02T08:22:00Z","p1":8914.6,"p2":8914.6},
{"t":"2020-06-30T12:20:00Z","t2":"2020-08-02T08:22:00Z","p1":8874.4,"p2":8874.4},
{"t":"2020-06-30T12:20:00Z","t2":"2020-06-30T12:20:00Z","p1":9780.2,"p2":8874.4},
{"t":"2020-08-01T00:31:00Z","t2":"2020-08-01T00:31:00Z","p1":9780.2,"p2":8874.4},
{"t":"2020-08-02T08:22:00Z","t2":"2020-08-02T08:22:00Z","p1":9780.2,"p2":8874.4}]},"mark":{"type":"rule","stroke":"#4c4c4c","strokeWidth":1},"encoding":{"x2":{"field":"t2"},"y":{"field":"p1","type":"quantitative","scale":{"type":"log","domain":[8914.6,9780.2],"nice":false,"zero":false},"axis":null},"y2":{"field":"p2"}}},
{"data":{"values":[{"t":"2020-06-30T18:42:00Z","p":8847}]},"mark":{"type":"point","filled":true,"fill":"#2196f3","opacity":1,"size":1024,"shape":"M-1,0.55C-1.05,0.2-0.8,0-0.6,-0.05C-0.5,-0.55-0.1,-0.7 0.15,-0.45C0.3,-0.5 0.5,-0.3 0.5,-0.15C0.8,-0.15 1,0.1 1,0.3C1,0.5 0.85,0.6 0.7,0.6L-0.75,0.6Z"},"encoding":{"y":{"field":"p","type":"quantitative","scale":{"type":"log","domain":[8914.6,9780.2],"nice":false,"zero":false},"axis":null}}},
{"data":{"values":[{"t":"2020-06-30T18:42:00Z","p":8847}]},"mark":{"type":"point","filled":false,"stroke":"#ffffff","strokeWidth":2,"opacity":1,"size":1024,"shape":"M-0.7,0.25L-0.25,-0.25L0.2,0.2L0.6,-0.1"},"encoding":{"y":{"field":"p","type":"quantitative","scale":{"type":"log","domain":[8914.6,9780.2],"nice":false,"zero":false},"axis":null}}},
{"data":{"values":[{"t":"2020-07-01T01:52:00Z","txt":"TradingView","p":8847}]},"mark":{"type":"text","font":"Open Sans","fontSize":16,"align":"left","baseline":"middle","color":"#2a2e39"},"encoding":{"text":{"field":"txt"},"y":{"field":"p","type":"quantitative","scale":{"type":"log","domain":[8914.6,9780.2],"nice":false,"zero":false},"axis":null}}}
]}
],
"resolve":{"scale":{"y":"independent"}}}
